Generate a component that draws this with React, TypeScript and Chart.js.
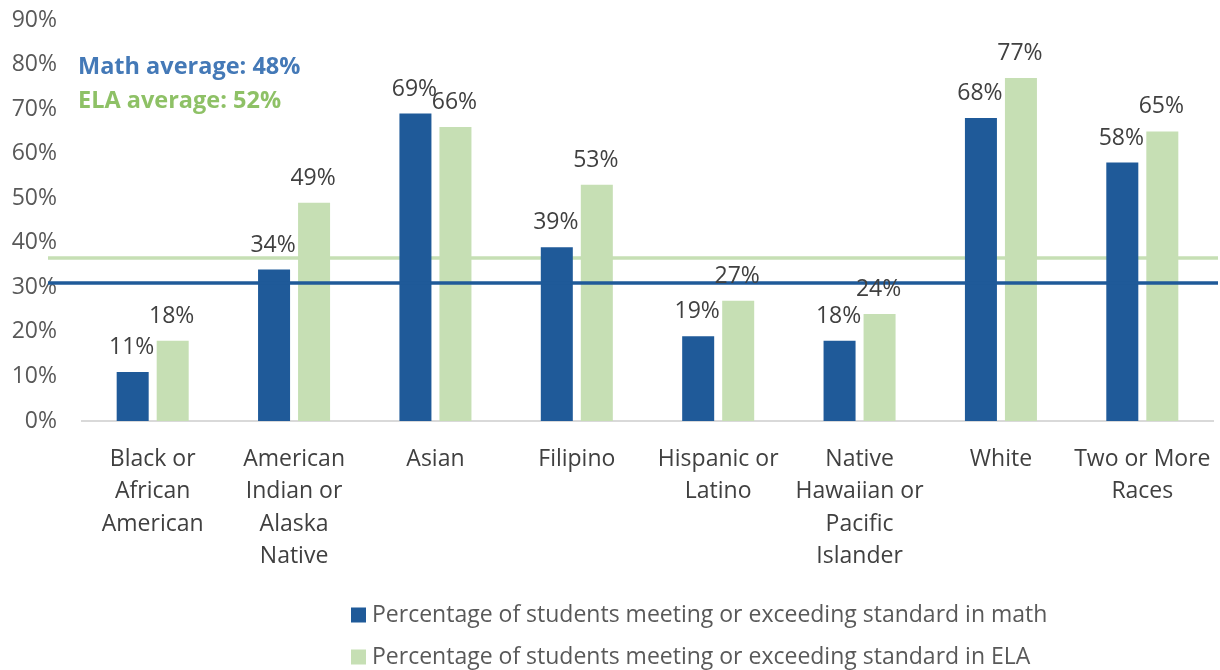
import React, { useEffect, useRef } from "react";
import { Chart, registerables } from "chart.js";

Chart.register(...registerables);

const categories: string[][] = [
  ["Black or", "African", "American"],
  ["American", "Indian or", "Alaska", "Native"],
  ["Asian"],
  ["Filipino"],
  ["Hispanic or", "Latino"],
  ["Native", "Hawaiian or", "Pacific", "Islander"],
  ["White"],
  ["Two or More", "Races"],
];
const mathValues = [11, 34, 69, 39, 19, 18, 68, 58];
const elaValues = [18, 49, 66, 53, 27, 24, 77, 65];
const mathLabel = "Percentage of students meeting or exceeding standard in math";
const elaLabel = "Percentage of students meeting or exceeding standard in ELA";
const mathAverageText = "Math average: 48%";
const elaAverageText = "ELA average: 52%";
const mathLineValue = 31;
const elaLineValue = 36.6;

const FONT = "'Open Sans', sans-serif";
const BLUE = "#1F5A99";
const GREEN = "#C6DFB4";

export default function App() {
  const ref = useRef<HTMLCanvasElement | null>(null);

  useEffect(() => {
    document.body.style.margin = "0";
    const canvas = ref.current;
    if (!canvas) return;

    const drawHLine = (chart: any, value: number, color: string) => {
      const y = chart.scales.y.getPixelForValue(value);
      const ctx = chart.ctx;
      ctx.save();
      ctx.strokeStyle = color;
      ctx.lineWidth = 3.5;
      ctx.beginPath();
      ctx.moveTo(chart.chartArea.left - 34, y);
      ctx.lineTo(chart.width - 2, y);
      ctx.stroke();
      ctx.restore();
    };

    const overlay = {
      id: "overlay",
      beforeDatasetsDraw(chart: any) {
        drawHLine(chart, elaLineValue, GREEN);
      },
      afterDatasetsDraw(chart: any) {
        drawHLine(chart, mathLineValue, BLUE);
        const ctx = chart.ctx;
        ctx.save();
        ctx.font = `23px ${FONT}`;
        ctx.fillStyle = "#404040";
        ctx.textAlign = "center";
        ctx.textBaseline = "alphabetic";
        chart.data.datasets.forEach((ds: any, di: number) => {
          const meta = chart.getDatasetMeta(di);
          meta.data.forEach((bar: any, i: number) => {
            ctx.fillText(ds.data[i] + "%", bar.x - 1, bar.y - 18);
          });
        });
        // average annotations
        ctx.textAlign = "left";
        ctx.textBaseline = "middle";
        ctx.font = `bold 23.5px ${FONT}`;
        ctx.fillStyle = "#4479B7";
        ctx.fillText(mathAverageText, chart.chartArea.left - 4, 67);
        ctx.fillStyle = "#8EC166";
        ctx.fillText(elaAverageText, chart.chartArea.left - 4, 101);
        // legend
        const items = [
          { label: mathLabel, color: BLUE },
          { label: elaLabel, color: GREEN },
        ];
        ctx.font = `23px ${FONT}`;
        items.forEach((it, k) => {
          const cy = 615 + k * 42;
          ctx.fillStyle = it.color;
          ctx.fillRect(351, cy - 7.5, 15, 15);
          ctx.fillStyle = "#595959";
          ctx.fillText(it.label, 372, cy);
        });
        ctx.restore();
      },
    };

    const chart = new Chart(canvas, {
      type: "bar",
      data: {
        labels: categories,
        datasets: [
          {
            label: mathLabel,
            data: mathValues,
            backgroundColor: BLUE,
            categoryPercentage: 0.566,
            barPercentage: 0.8,
          },
          {
            label: elaLabel,
            data: elaValues,
            backgroundColor: GREEN,
            categoryPercentage: 0.566,
            barPercentage: 0.8,
          },
        ],
      },
      options: {
        responsive: false,
        animation: false,
        maintainAspectRatio: false,
        layout: { padding: { top: 20, right: 7, bottom: 75, left: 0 } },
        plugins: {
          legend: { display: false },
          tooltip: { enabled: false },
          title: { display: false },
        },
        scales: {
          x: {
            grid: { display: false, drawTicks: false },
            border: { display: true, color: "#D9D9D9", width: 2 },
            ticks: {
              color: "#404040",
              font: { family: FONT, size: 23, lineHeight: 1.41 },
              padding: 22,
              maxRotation: 0,
              autoSkip: false,
            },
            afterFit(scale: any) {
              scale.height = 174;
              scale.paddingTop = 0;
              scale.paddingBottom = 0;
              scale.paddingLeft = 0;
              scale.paddingRight = 0;
            },
          },
          y: {
            min: 0,
            max: 90,
            grid: { display: false, drawTicks: false },
            border: { display: false },
            ticks: {
              stepSize: 10,
              color: "#595959",
              font: { family: FONT, size: 23 },
              padding: 25,
              callback: (v: any) => v + "%",
            },
            afterFit(scale: any) {
              scale.width = 82;
              scale.paddingTop = 0;
              scale.paddingBottom = 0;
            },
          },
        },
      },
      plugins: [overlay],
    });

    return () => chart.destroy();
  }, []);

  return <canvas ref={ref} width={1220} height={670} style={{ display: "block" }} />;
}
